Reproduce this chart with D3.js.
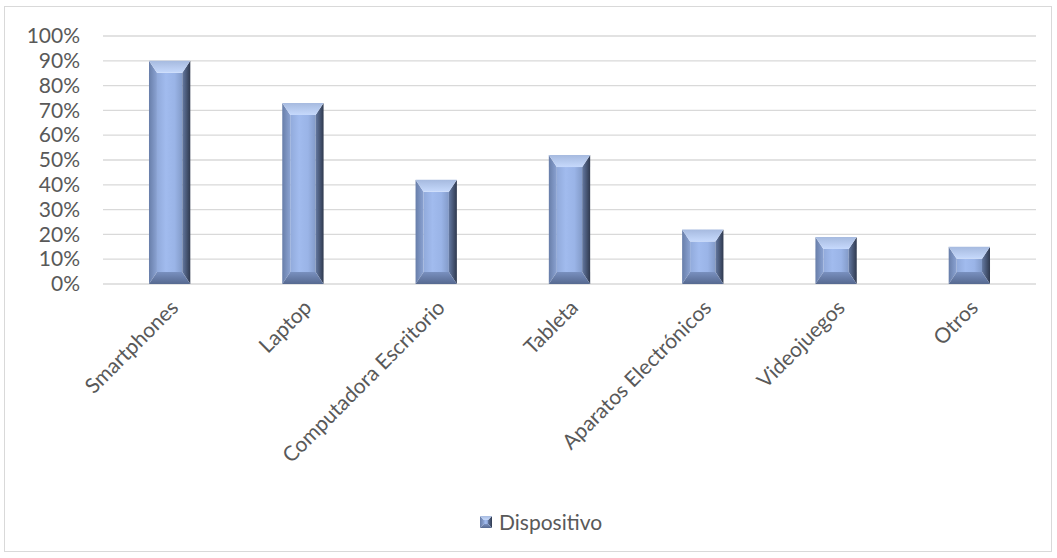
<!DOCTYPE html>
<html>
<head>
<meta charset="utf-8">
<script src="https://cdn.jsdelivr.net/npm/d3@7"></script>
<style>
  html, body { margin: 0; padding: 0; background: #fff; }
  svg { display: block; }
  text { font-family: Lato, "Open Sans", sans-serif; fill: #595959; }
</style>
</head>
<body>
<svg id="chart" width="1057" height="558"></svg>
<script>
// Share of respondents using each device
const categories = ["Smartphones", "Laptop", "Computadora Escritorio", "Tableta",
                    "Aparatos Electrónicos", "Videojuegos", "Otros"];
const values = [0.90, 0.73, 0.42, 0.52, 0.22, 0.19, 0.15];
const yTicks = [0, 0.1, 0.2, 0.3, 0.4, 0.5, 0.6, 0.7, 0.8, 0.9, 1.0];
const seriesName = "Dispositivo";

const svg = d3.select("#chart");
const plot = { left: 103, right: 1036, top: 36, bottom: 284 };
const fontSize = 21;

// outer chart frame
svg.append("rect")
  .attr("x", 4.5).attr("y", 6.5)
  .attr("width", 1047).attr("height", 545)
  .attr("fill", "#fff").attr("stroke", "#d9d9d9").attr("stroke-width", 1);

const x = d3.scaleBand()
  .domain(categories)
  .range([plot.left, plot.right])
  .paddingInner(0.69)
  .paddingOuter(0.345);

const y = d3.scaleLinear()
  .domain([0, 1])
  .range([plot.bottom, plot.top]);

// gradients for the bevelled bar faces
const defs = svg.append("defs");
function grad(id, horizontal, stops) {
  const g = defs.append("linearGradient").attr("id", id)
    .attr("x1", 0).attr("y1", 0)
    .attr("x2", horizontal ? 1 : 0).attr("y2", horizontal ? 0 : 1);
  stops.forEach(([o, c]) => g.append("stop").attr("offset", o).attr("stop-color", c));
}
grad("gFace", true, [[0, "#91aadb"], [0.35, "#a1bbee"], [0.7, "#9ab4e7"], [1, "#839bc9"]]);
grad("gLeft", true, [[0, "#687ea9"], [1, "#8ba3d3"]]);
grad("gRight", true, [[0, "#6479a2"], [1, "#2f394e"]]);
grad("gTop", false, [[0, "#a6badf"], [1, "#c6d9fc"]]);
grad("gBottom", false, [[0, "#7990bf"], [1, "#566990"]]);

// horizontal gridlines
svg.append("g")
  .selectAll("line")
  .data(yTicks)
  .join("line")
  .attr("x1", plot.left).attr("x2", plot.right)
  .attr("y1", d => y(d)).attr("y2", d => y(d))
  .attr("stroke", "#d9d9d9").attr("stroke-width", 1.3);

// y axis labels
const yAxis = d3.axisLeft(y)
  .tickValues(yTicks)
  .tickFormat(d3.format(".0%"))
  .tickSize(0)
  .tickPadding(0);
const yg = svg.append("g")
  .attr("transform", `translate(${plot.left - 23},0)`)
  .call(yAxis);
yg.select(".domain").remove();
yg.selectAll("text")
  .attr("font-size", fontSize)
  .attr("fill", "#595959")
  .style("font-family", "Lato, 'Open Sans', sans-serif");

// bevelled bar drawn as five facets
function bevelBar(g, bx0, by0, w, h, bx, by) {
  by = Math.min(by, h / 2);
  const x1 = bx0 + w, y1 = by0 + h;
  const pts = a => a.map(p => p.join(",")).join(" ");
  g.append("rect")
    .attr("x", bx0 + bx).attr("y", by0 + by)
    .attr("width", w - 2 * bx).attr("height", Math.max(0, h - 2 * by))
    .attr("fill", "url(#gFace)");
  g.append("polygon").attr("fill", "url(#gLeft)")
    .attr("points", pts([[bx0, by0], [bx0 + bx, by0 + by], [bx0 + bx, y1 - by], [bx0, y1]]));
  g.append("polygon").attr("fill", "url(#gRight)")
    .attr("points", pts([[x1, by0], [x1 - bx, by0 + by], [x1 - bx, y1 - by], [x1, y1]]));
  g.append("polygon").attr("fill", "url(#gTop)")
    .attr("points", pts([[bx0, by0], [x1, by0], [x1 - bx, by0 + by], [bx0 + bx, by0 + by]]));
  g.append("polygon").attr("fill", "url(#gBottom)")
    .attr("points", pts([[bx0, y1], [x1, y1], [x1 - bx, y1 - by], [bx0 + bx, y1 - by]]));
}

const bars = svg.append("g");
categories.forEach((c, i) => {
  const g = bars.append("g").attr("class", "bar");
  bevelBar(g, x(c), y(values[i]), x.bandwidth(), y(0) - y(values[i]), 8, 12);
});

// rotated category labels
svg.append("g")
  .selectAll("text")
  .data(categories)
  .join("text")
  .attr("text-anchor", "end")
  .attr("font-size", fontSize)
  .attr("transform", d => `translate(${x(d) + x.bandwidth() / 2 + 10},${plot.bottom + 25}) rotate(-45)`)
  .text(d => d);

// legend
const lg = svg.append("g").attr("transform", "translate(480,516)");
bevelBar(lg, 0, 0, 12, 12, 4, 4);
lg.append("text")
  .attr("x", 19).attr("y", 14)
  .attr("font-size", fontSize)
  .text(seriesName);
</script>
</body>
</html>
